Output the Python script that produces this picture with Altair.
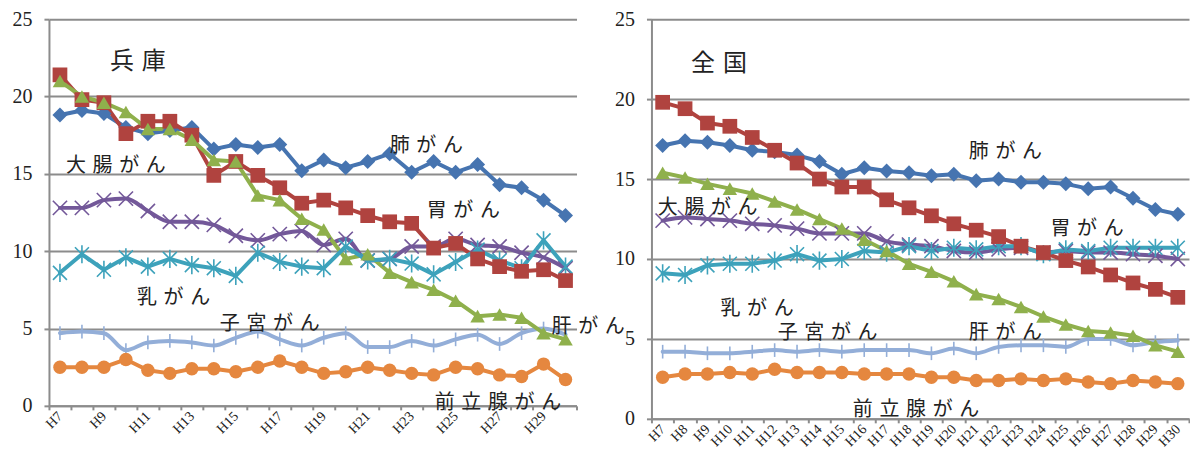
import altair as alt
import pandas as pd

years = ["H7", "H8", "H9", "H10", "H11", "H12", "H13", "H14", "H15", "H16", "H17", "H18",
         "H19", "H20", "H21", "H22", "H23", "H24", "H25", "H26", "H27", "H28", "H29", "H30"]
series = ["肺がん", "胃がん", "肝がん", "大腸がん", "乳がん", "子宮がん", "前立腺がん"]

# 兵庫
lung_h = [18.8, 19.1, 18.9, 18.0, 17.6, 17.8, 18.0, 16.6, 16.9, 16.7, 16.9, 15.2,
          15.9, 15.4, 15.8, 16.3, 15.1, 15.8, 15.1, 15.6, 14.3, 14.1, 13.3, 12.3]
stomach_h = [21.4, 19.8, 19.6, 17.6, 18.4, 18.4, 17.5, 14.9, 15.8, 14.9, 14.1, 13.1,
             13.3, 12.8, 12.3, 11.9, 11.8, 10.2, 10.5, 9.5, 9.0, 8.7, 8.8, 8.1]
liver_h = [21.0, 20.0, 19.6, 19.0, 17.9, 17.9, 17.2, 15.9, 15.8, 13.6, 13.3, 12.1,
           11.4, 9.5, 9.8, 8.6, 8.0, 7.5, 6.8, 5.8, 5.9, 5.7, 4.7, 4.3]
colorectal_h = [12.8, 12.8, 13.3, 13.4, 12.6, 11.9, 11.9, 11.7, 11.0, 10.7, 11.1, 11.3,
                10.4, 10.8, 9.4, 9.5, 10.3, 10.3, 10.8, 10.4, 10.3, 9.9, 9.6, 8.9]
breast_h = [8.6, 9.8, 8.8, 9.6, 9.0, 9.5, 9.1, 8.9, 8.4, 9.9, 9.3, 9.0,
            8.9, 10.3, 9.4, 9.5, 9.2, 8.5, 9.3, 10.1, 9.4, 8.9, 10.7, 9.0]
uterus_h = [4.7, 4.8, 4.7, 3.6, 4.1, 4.2, 4.1, 3.9, 4.4, 4.8, 4.3, 3.9,
            4.4, 4.7, 3.8, 3.8, 4.2, 3.9, 4.3, 4.6, 4.0, 4.7, 5.0, 4.6]
prostate_h = [2.5, 2.5, 2.5, 3.0, 2.3, 2.1, 2.4, 2.4, 2.2, 2.5, 2.9, 2.5,
              2.1, 2.2, 2.5, 2.3, 2.1, 2.0, 2.5, 2.4, 2.0, 1.9, 2.7, 1.7]

# 全国
lung_n = [17.1, 17.4, 17.3, 17.1, 16.8, 16.7, 16.5, 16.1, 15.3, 15.7, 15.5, 15.4,
          15.2, 15.3, 14.9, 15.0, 14.8, 14.8, 14.7, 14.4, 14.5, 13.8, 13.1, 12.8]
stomach_n = [19.8, 19.4, 18.5, 18.3, 17.6, 16.8, 16.0, 15.0, 14.5, 14.5, 13.7, 13.2,
             12.7, 12.2, 11.8, 11.4, 10.8, 10.4, 9.9, 9.5, 9.0, 8.5, 8.1, 7.6]
liver_n = [15.4, 15.1, 14.7, 14.4, 14.1, 13.6, 13.1, 12.5, 11.9, 11.2, 10.5, 9.7,
           9.2, 8.6, 7.8, 7.5, 7.0, 6.4, 5.9, 5.5, 5.4, 5.2, 4.6, 4.2]
colorectal_n = [12.4, 12.6, 12.5, 12.4, 12.2, 12.1, 11.9, 11.6, 11.6, 11.6, 11.1, 10.9,
                10.8, 10.5, 10.4, 10.6, 10.7, 10.4, 10.5, 10.4, 10.4, 10.3, 10.2, 10.0]
breast_n = [9.1, 9.0, 9.6, 9.7, 9.7, 9.9, 10.3, 9.9, 10.0, 10.5, 10.4, 10.8,
            10.5, 10.7, 10.6, 10.8, 10.8, 10.3, 10.6, 10.5, 10.7, 10.7, 10.7, 10.7]
uterus_n = [4.2, 4.2, 4.1, 4.1, 4.2, 4.3, 4.2, 4.3, 4.2, 4.3, 4.3, 4.3,
            4.1, 4.4, 4.1, 4.5, 4.6, 4.6, 4.5, 5.0, 5.0, 4.6, 4.8, 4.9]
prostate_n = [2.6, 2.8, 2.8, 2.9, 2.8, 3.1, 2.9, 2.9, 2.9, 2.8, 2.8, 2.8,
              2.6, 2.6, 2.4, 2.4, 2.5, 2.4, 2.5, 2.3, 2.2, 2.4, 2.3, 2.2]

# annotations (label, anchor year, anchor value)
ann_h_labels = ["兵庫", "肺がん", "大腸がん", "胃がん", "乳がん", "子宮がん", "肝がん", "前立腺がん"]
ann_h_years = ["H9", "H22", "H7", "H24", "H11", "H14", "H29", "H24"]
ann_h_values = [22.2, 16.8, 15.5, 12.6, 7.0, 5.3, 5.1, 0.2]
ann_n_labels = ["全国", "肺がん", "大腸がん", "胃がん", "乳がん", "子宮がん", "肝がん", "前立腺がん"]
ann_n_years = ["H8", "H20", "H7", "H24", "H9", "H12", "H20", "H15"]
ann_n_values = [22.2, 16.7, 13.2, 11.9, 6.9, 5.4, 5.4, 0.55]

# styles
colors = ["#4674B0", "#B0433F", "#8FB04C", "#735899", "#3DA2BB", "#93AED8", "#E5873F"]
shapes = ["diamond", "square", "triangle-up",
          "M-1,-1L1,1M-1,1L1,-1",
          "M-1,-1L1,1M-1,1L1,-1M0,-1.3L0,1.3",
          "M0,-1L0,1",
          "circle"]
sizes = [225, 180, 210, 225, 210, 110, 196]
widths = [4, 4, 4, 5, 4, 5, 4]
ann_h_dx = [6, 0, 6, -7, -11, 6, 8, 1]
ann_n_dx = [6, 15, -5, 7, 13, 3, 15, 11]

straight = ["肺がん", "胃がん", "肝がん", "乳がん", "前立腺がん"]
smooth = ["大腸がん", "子宮がん"]
filled = ["肺がん", "胃がん", "肝がん", "前立腺がん"]
stroked = ["大腸がん", "乳がん", "子宮がん"]

GRAY = "#8C8C8C"
JP = "Noto Sans CJK JP"
SP = "\u2004"


def make_panel(vals, w, h, labels, ann_years, ann_vals, ann_dx, odd_only):
    rows = []
    for s, arr in zip(series, vals):
        for yy, v in zip(years, arr):
            rows.append({"year": yy, "series": s, "value": v})
    df = pd.DataFrame(rows)

    label_expr = ("toNumber(substring(datum.value, 1)) % 2 == 1 ? datum.value : ''"
                  if odd_only else "datum.value")
    xenc = alt.X("year:N", sort=years,
                 scale=alt.Scale(type="band", domain=years, paddingInner=0, paddingOuter=0),
                 axis=alt.Axis(title=None, tickBand="extent", labelAngle=-45,
                               labelAlign="right", labelBaseline="middle",
                               labelFont="Liberation Serif", labelFontSize=14,
                               labelColor="#222", labelPadding=4, labelOverlap=False,
                               labelExpr=label_expr,
                               domainColor=GRAY, domainWidth=2, tickColor=GRAY,
                               tickWidth=2, tickSize=4, grid=False))
    yenc = alt.Y("value:Q",
                 scale=alt.Scale(domain=[0, 25], nice=False),
                 axis=alt.Axis(title=None, values=[0, 5, 10, 15, 20, 25],
                               labelFont="Liberation Serif", labelFontSize=20,
                               labelColor="#222", labelPadding=12,
                               domainColor=GRAY, domainWidth=2, tickColor=GRAY,
                               tickWidth=2, tickSize=5,
                               grid=True, gridColor=GRAY, gridWidth=2))
    color = alt.Color("series:N", scale=alt.Scale(domain=series, range=colors), legend=None)
    sw = alt.StrokeWidth("series:N", scale=alt.Scale(domain=series, range=widths), legend=None)
    shp = alt.Shape("series:N", scale=alt.Scale(domain=series, range=shapes), legend=None)
    sz = alt.Size("series:N", scale=alt.Scale(domain=series, range=sizes), legend=None)

    base = alt.Chart(df).encode(x=xenc, y=yenc, color=color)
    l1 = base.transform_filter(alt.FieldOneOfPredicate(field="series", oneOf=straight)).mark_line(
        strokeJoin="round", strokeCap="round").encode(strokeWidth=sw)
    l2 = base.transform_filter(alt.FieldOneOfPredicate(field="series", oneOf=smooth)).mark_line(
        interpolate="monotone", strokeJoin="round", strokeCap="round").encode(strokeWidth=sw)
    p1 = base.transform_filter(alt.FieldOneOfPredicate(field="series", oneOf=filled)).mark_point(
        filled=True, opacity=1).encode(shape=shp, size=sz)
    p2 = base.transform_filter(alt.FieldOneOfPredicate(field="series", oneOf=stroked)).mark_point(
        filled=False, opacity=1, strokeWidth=1.6).encode(shape=shp, size=sz)

    layers = [l2, l1, p2, p1]
    for i, (lab, ay, av) in enumerate(zip(labels, ann_years, ann_vals)):
        fs = 24 if i == 0 else 20
        tdf = pd.DataFrame({"label": [SP.join(list(lab))], "year": [ay], "value": [av]})
        t = alt.Chart(tdf).mark_text(align="left", baseline="middle", dx=ann_dx[i],
                                     font=JP, fontSize=fs, color="#222").encode(
            x=xenc, y=yenc, text="label:N")
        layers.append(t)
    return alt.layer(*layers).properties(width=w, height=h)


left = make_panel([lung_h, stomach_h, liver_h, colorectal_h, breast_h, uterus_h, prostate_h],
                  528, 387, ann_h_labels, ann_h_years, ann_h_values, ann_h_dx, True)
right = make_panel([lung_n, stomach_n, liver_n, colorectal_n, breast_n, uterus_n, prostate_n],
                   538, 400, ann_n_labels, ann_n_years, ann_n_values, ann_n_dx, False)

chart = alt.hconcat(left, right, spacing=75, bounds="flush").properties(
    padding={"left": 4, "top": 1, "right": 0, "bottom": 0},
    background="white",
).configure_view(stroke=None)

chart.save("out.html", embed_options={"renderer": "svg", "actions": False})
